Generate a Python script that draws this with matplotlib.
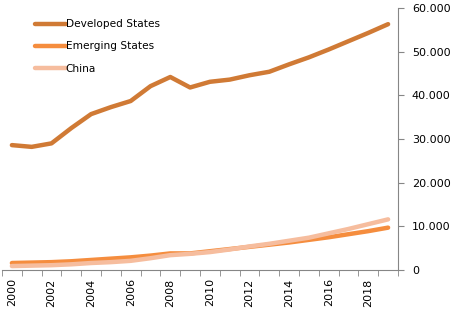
import matplotlib
matplotlib.use("Agg")
import matplotlib.pyplot as plt
from matplotlib.ticker import FuncFormatter

years = list(range(2000, 2020))
developed = [28.6, 28.2, 29.0, 32.5, 35.7, 37.3, 38.7, 42.1, 44.2, 41.8,
             43.1, 43.6, 44.6, 45.4, 47.1, 48.7, 50.5, 52.4, 54.3, 56.3]
emerging = [1.6, 1.7, 1.8, 2.0, 2.3, 2.6, 2.9, 3.3, 3.8, 3.8,
            4.3, 4.8, 5.3, 5.8, 6.3, 6.9, 7.5, 8.2, 8.9, 9.7]
china = [0.9, 1.0, 1.1, 1.3, 1.6, 1.8, 2.1, 2.7, 3.4, 3.7,
         4.1, 4.7, 5.4, 6.0, 6.7, 7.4, 8.4, 9.4, 10.5, 11.6]
developed = [v * 1000 for v in developed]
emerging = [v * 1000 for v in emerging]
china = [v * 1000 for v in china]

fig = plt.figure(figsize=(4.51, 3.26), dpi=100)
ax = fig.add_axes([2 / 451, 56 / 326, 396 / 451, 262 / 326])

x = list(range(len(years)))
ax.plot(x, developed, color="#D07A35", lw=3.2, solid_capstyle="round", label="Developed States")
ax.plot(x, emerging, color="#F58D3E", lw=3.2, solid_capstyle="round", label="Emerging States")
ax.plot(x, china, color="#F6BD9E", lw=3.2, solid_capstyle="round", label="China")

ax.set_xlim(-0.5, len(years) - 0.5)
ax.set_ylim(0, 60000)

for s in ["top", "left"]:
    ax.spines[s].set_visible(False)
ax.spines["right"].set_color("#868686")
ax.spines["bottom"].set_color("#868686")

ax.yaxis.tick_right()
ax.set_yticks(range(0, 60001, 10000))
ax.yaxis.set_major_formatter(FuncFormatter(lambda v, p: "0" if v == 0 else f"{int(v):,}".replace(",", ".")))
ax.tick_params(axis="y", direction="out", length=4, color="#868686", labelsize=8, pad=6)

ax.set_xticks(x[::2])
ax.set_xticklabels([str(y) for y in years[::2]], rotation=90)
ax.set_xticks([i - 0.5 for i in range(len(years) + 1)], minor=True)
ax.tick_params(axis="x", which="major", length=0, labelsize=8, pad=6)
ax.tick_params(axis="x", which="minor", direction="out", length=4, color="#868686")

ax.legend(loc="upper left", bbox_to_anchor=(0.065, 0.985), frameon=False, fontsize=7.6,
          handlelength=2.9, handletextpad=0.0, labelspacing=1.15, borderaxespad=0.3)

fig.savefig("out.png", dpi=100)
